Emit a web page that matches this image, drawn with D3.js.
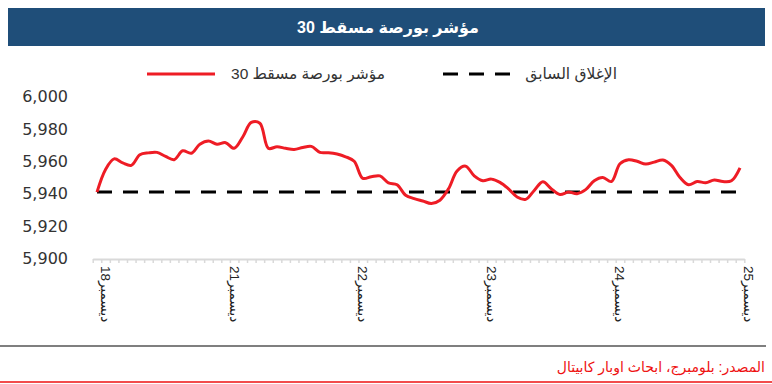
<!DOCTYPE html>
<html>
<head>
<meta charset="utf-8">
<script src="https://cdn.jsdelivr.net/npm/d3@7"></script>
<style>
  body { margin: 0; background: #fff; }
  text { font-family: Arial, "Liberation Sans", "DejaVu Sans", sans-serif; }
</style>
</head>
<body>
<svg id="chart" width="772" height="384"></svg>
<script>
// index readings (15 steps per trading day)
const values = [
  5941, 5955, 5961.5, 5959, 5957.5, 5964, 5965.2, 5965.5, 5963, 5961,
  5966.5, 5965, 5970.5, 5972.5, 5970.5, 5971.5, 5968, 5975, 5984, 5983.5,
  5968, 5969, 5968, 5967.3, 5968.5, 5969.2, 5965.5, 5965.3, 5964.5, 5962.8,
  5960, 5949.5, 5950.5, 5951, 5946.7, 5945.5, 5939, 5937, 5935.5, 5934,
  5936, 5943, 5954, 5957, 5951, 5948, 5949, 5947, 5943, 5938,
  5936.5, 5942, 5947.4, 5943, 5939.5, 5941, 5940, 5942.5, 5948, 5950,
  5947.5, 5958.5, 5961, 5960, 5958.3, 5959.5, 5960.8, 5957.5, 5950, 5945.5,
  5947.5, 5946.8, 5948.5, 5947.5, 5948, 5956
];
const prevClose = 5941;
const dayLabels = ["18ديسمبر", "21ديسمبر", "22ديسمبر", "23ديسمبر", "24ديسمبر", "25ديسمبر"];
const dayIndex = [0, 15, 30, 45, 60, 75];
const yTicks = [5900, 5920, 5940, 5960, 5980, 6000];

const title = "مؤشر بورصة مسقط 30";
const legendMain = "مؤشر بورصة مسقط 30";
const legendPrev = "الإغلاق السابق";
const source = "المصدر: بلومبرج، ابحاث اوبار كابيتال";

const svg = d3.select("#chart");

// title bar
svg.append("rect").attr("x", 8).attr("y", 8).attr("width", 757).attr("height", 38)
  .attr("fill", "#1f4e79");
svg.append("text").attr("x", 388).attr("y", 33).attr("text-anchor", "middle")
  .attr("fill", "#fff").attr("font-size", 16).attr("font-weight", "bold")
  .text(title);

let x = d3.scaleLinear().domain([-0.5, 75.5]).range([92.7, 744.3]);
let y = d3.scaleLinear().domain([5900, 6000]).range([258.5, 96.5]);

// legend
svg.append("line").attr("x1", 147).attr("x2", 215).attr("y1", 74).attr("y2", 74)
  .attr("stroke", "#ee1c25").attr("stroke-width", 3);
svg.append("text").attr("x", 385).attr("y", 79).attr("text-anchor", "end")
  .attr("font-size", 15.5).attr("fill", "#333").text(legendMain);
svg.append("line").attr("x1", 443).attr("x2", 513).attr("y1", 74).attr("y2", 74)
  .attr("stroke", "#000").attr("stroke-width", 3).attr("stroke-dasharray", "15,11");
svg.append("text").attr("x", 617).attr("y", 79).attr("text-anchor", "end")
  .attr("font-size", 15.5).attr("fill", "#333").text(legendPrev);

// y labels
svg.selectAll(".ylab").data(yTicks).enter().append("text")
  .attr("class", "ylab")
  .attr("x", 68).attr("y", d => y(d)).attr("dy", "0.35em")
  .attr("text-anchor", "end").attr("font-size", 16).attr("fill", "#333")
  .style("font-family", "'DejaVu Sans', sans-serif")
  .text(d => d3.format(",")(d));

// x axis
const xAxis = svg.append("g").attr("transform", "translate(0,259)")
  .call(d3.axisBottom(x)
    .tickValues(d3.range(-0.5, 76, 1))
    .tickSizeInner(4).tickSizeOuter(0)
    .tickFormat(""));
xAxis.select(".domain").attr("stroke", "#d9d9d9").attr("stroke-width", 2);
xAxis.selectAll(".tick line").attr("stroke", "#d9d9d9").attr("stroke-width", 1.5);

svg.selectAll(".xlab").data(dayIndex).enter().append("text")
  .attr("class", "xlab")
  .attr("transform", d => "translate(" + (x(d) + 4) + ",266) rotate(90)")
  .attr("font-size", 13.5).attr("fill", "#222")
  .attr("direction", "ltr")
  .text((d, i) => dayLabels[i]);

// previous close
svg.append("line")
  .attr("x1", x(0)).attr("x2", x(values.length - 1))
  .attr("y1", y(prevClose)).attr("y2", y(prevClose))
  .attr("stroke", "#000").attr("stroke-width", 3).attr("stroke-dasharray", "15,11");

// index line
let line = d3.line()
  .x((d, i) => x(i))
  .y(d => y(d))
  .curve(d3.curveCatmullRom.alpha(0.5));
svg.append("path").datum(values)
  .attr("fill", "none").attr("stroke", "#ee1c25").attr("stroke-width", 3)
  .attr("stroke-linejoin", "round")
  .attr("d", line);

// footer
svg.append("line").attr("x1", 0).attr("x2", 766).attr("y1", 346).attr("y2", 346)
  .attr("stroke", "#555").attr("stroke-width", 1.5);
svg.append("text").attr("x", 765).attr("y", 372).attr("text-anchor", "end")
  .attr("font-size", 14).attr("fill", "#ee1111").text(source);
svg.append("line").attr("x1", 0).attr("x2", 772).attr("y1", 382).attr("y2", 382)
  .attr("stroke", "#ee1111").attr("stroke-width", 1.5);
</script>
</body>
</html>
